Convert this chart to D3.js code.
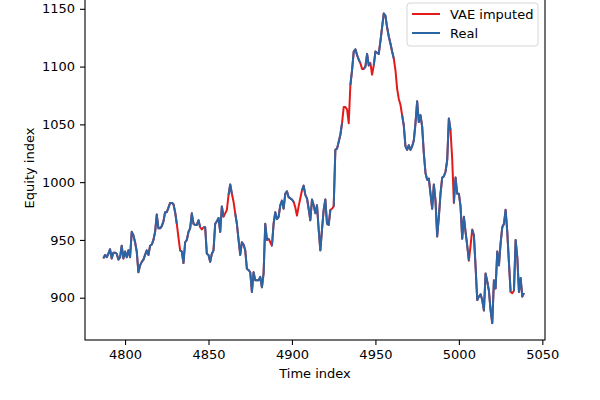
<!DOCTYPE html>
<html lang="en">
	<head>
		<meta charset="utf-8">
		<title>VAE imputed vs real equity index</title>
		<script src="https://d3js.org/d3.v7.min.js"></script>
		<style type="text/css">
		body { margin: 0; background: #fff; }
		text { font-family: "DejaVu Sans", sans-serif; fill: #000; }
		</style>
	</head>
	<body>
		<script type="text/javascript">

			//Time index of every observation
			var timeIndex = d3.range(4787, 5040);

			//Equity index, one value per time index (VAE imputed where real is missing)
			var equity = [
				934, 937, 935, 938, 942, 934, 939, 939, 938, 933,
				935, 945, 934, 940, 935, 941, 935, 957, 954, 948,
				940, 922, 928, 931, 933, 937, 941, 937, 945, 946,
				950, 957, 972, 960, 960, 962, 966, 974, 974, 978,
				982, 982, 981, 974, 964, 952, 941, 940, 930, 948,
				950, 957, 960, 973, 964, 963, 963, 967, 961, 959,
				961, 961, 938, 937, 931, 938, 941, 964, 966, 969,
				957, 979, 970, 973, 976, 989, 998, 990, 983, 973,
				964, 950, 937, 948, 946, 941, 925, 924, 922, 905,
				922, 915, 915, 915, 918, 909, 921, 964, 950, 951,
				948, 945, 964, 974, 968, 970, 980, 984, 977, 990,
				992, 987, 986, 985, 983, 978, 971, 979, 986, 993,
				997, 989, 986, 977, 967, 985, 980, 973, 980, 959,
				941, 959, 976, 985, 964, 963, 976, 977, 979, 1028,
				1029, 1035, 1041, 1051, 1065, 1065, 1063, 1051, 1084, 1097,
				1113, 1115, 1110, 1106, 1103, 1098, 1098, 1100, 1111, 1101,
				1103, 1093, 1101, 1113, 1112, 1111, 1122, 1134, 1146, 1144,
				1134, 1126, 1120, 1113, 1107, 1097, 1081, 1072, 1067, 1058,
				1049, 1031, 1028, 1032, 1028, 1031, 1036, 1051, 1070, 1052,
				1058, 1048, 1025, 1008, 1002, 1003, 990, 977, 998, 984,
				953, 970, 990, 1004, 1005, 1009, 1019, 1055, 1045, 1020,
				982, 1004, 990, 990, 979, 951, 970, 957, 945, 932,
				945, 959, 954, 927, 898, 901, 903, 898, 889, 921,
				914, 906, 889, 878, 915, 908, 940, 928, 947, 961,
				964, 976, 957, 930, 905, 904, 906, 950, 935, 905,
				917, 901, 904
			];

			//Time indices where the real series has no value
			var missingIndex = [4832, 4846, 4860, 4861, 4865, 4887, 4902, 4903, 4904, 4905,
				4924, 4931, 4932, 4933, 4934, 4942, 4948, 4962, 4963, 4964,
				4965, 4996, 5007, 5032];

			//Tick labels
			var xTicks = [4800, 4850, 4900, 4950, 5000, 5050];
			var yTicks = [900, 950, 1000, 1050, 1100, 1150];

			var seriesNames = ["VAE imputed", "Real"];
			var seriesColors = ["#e41a1a", "#2a66a6"];

			//Width and height
			var w = 600;
			var h = 400;

			var data = timeIndex.map(function(t, i) {
				return { t: t, v: equity[i], real: missingIndex.indexOf(t) < 0 };
			});

			//Scales (top of the axes sits just above the picture)
			var x = d3.scaleLinear()
						.domain([4776, 5051.6])
						.range([85, 545]);

			var y = d3.scaleLinear()
						.domain([863.4, 1161.6])
						.range([340, -4.6]);

			//Create SVG element
			var svg = d3.select("body")
						.append("svg")
						.attr("width", w)
						.attr("height", h);

			var line = d3.line()
						.x(function(d) { return x(d.t); })
						.y(function(d) { return y(d.v); });

			//Imputed series underneath
			svg.append("path")
			   .datum(data)
			   .attr("d", line)
			   .attr("fill", "none")
			   .attr("stroke", seriesColors[0])
			   .attr("stroke-width", 2)
			   .attr("stroke-linejoin", "round");

			//Real series on top, broken where missing
			svg.append("path")
			   .datum(data)
			   .attr("d", line.defined(function(d) { return d.real; }))
			   .attr("fill", "none")
			   .attr("stroke", seriesColors[1])
			   .attr("stroke-width", 2)
			   .attr("stroke-linejoin", "round");

			//Axes
			var xAxis = d3.axisBottom(x)
						.tickValues(xTicks)
						.tickSize(5)
						.tickPadding(5)
						.tickFormat(d3.format("d"));

			var yAxis = d3.axisLeft(y)
						.tickValues(yTicks)
						.tickSize(5)
						.tickPadding(5)
						.tickFormat(d3.format("d"));

			var gx = svg.append("g")
						.attr("transform", "translate(0,340)")
						.call(xAxis);

			var gy = svg.append("g")
						.attr("transform", "translate(85,0)")
						.call(yAxis);

			[gx, gy].forEach(function(g) {
				g.select(".domain").remove();
				g.selectAll("line").attr("stroke", "#000").attr("stroke-width", 1.1);
				g.selectAll("text")
				 .attr("font-family", "DejaVu Sans")
				 .attr("font-size", 13)
				 .attr("fill", "#000");
			});

			//Axes frame
			svg.append("rect")
			   .attr("x", x.range()[0])
			   .attr("y", y.range()[1])
			   .attr("width", x.range()[1] - x.range()[0])
			   .attr("height", y.range()[0] - y.range()[1])
			   .attr("fill", "none")
			   .attr("stroke", "#000")
			   .attr("stroke-width", 1.1);

			//Axis titles
			svg.append("text")
			   .attr("x", 315)
			   .attr("y", 378)
			   .attr("text-anchor", "middle")
			   .attr("font-size", 13)
			   .text("Time index");

			svg.append("text")
			   .attr("transform", "translate(34,168) rotate(-90)")
			   .attr("text-anchor", "middle")
			   .attr("font-size", 13)
			   .text("Equity index");

			//Legend
			var legend = svg.append("g");

			legend.append("rect")
				  .attr("x", 407)
				  .attr("y", 3)
				  .attr("width", 131)
				  .attr("height", 43)
				  .attr("rx", 3)
				  .attr("fill", "#fff")
				  .attr("fill-opacity", 0.8)
				  .attr("stroke", "#d6d6d6");

			seriesNames.forEach(function(name, i) {
				var ly = 14 + i * 19;
				legend.append("line")
					  .attr("x1", 412)
					  .attr("x2", 440)
					  .attr("y1", ly)
					  .attr("y2", ly)
					  .attr("stroke", seriesColors[i])
					  .attr("stroke-width", 2);
				legend.append("text")
					  .attr("x", 450)
					  .attr("y", ly)
					  .attr("dy", "0.35em")
					  .attr("font-size", 13)
					  .text(name);
			});

		</script>
	</body>
</html>
